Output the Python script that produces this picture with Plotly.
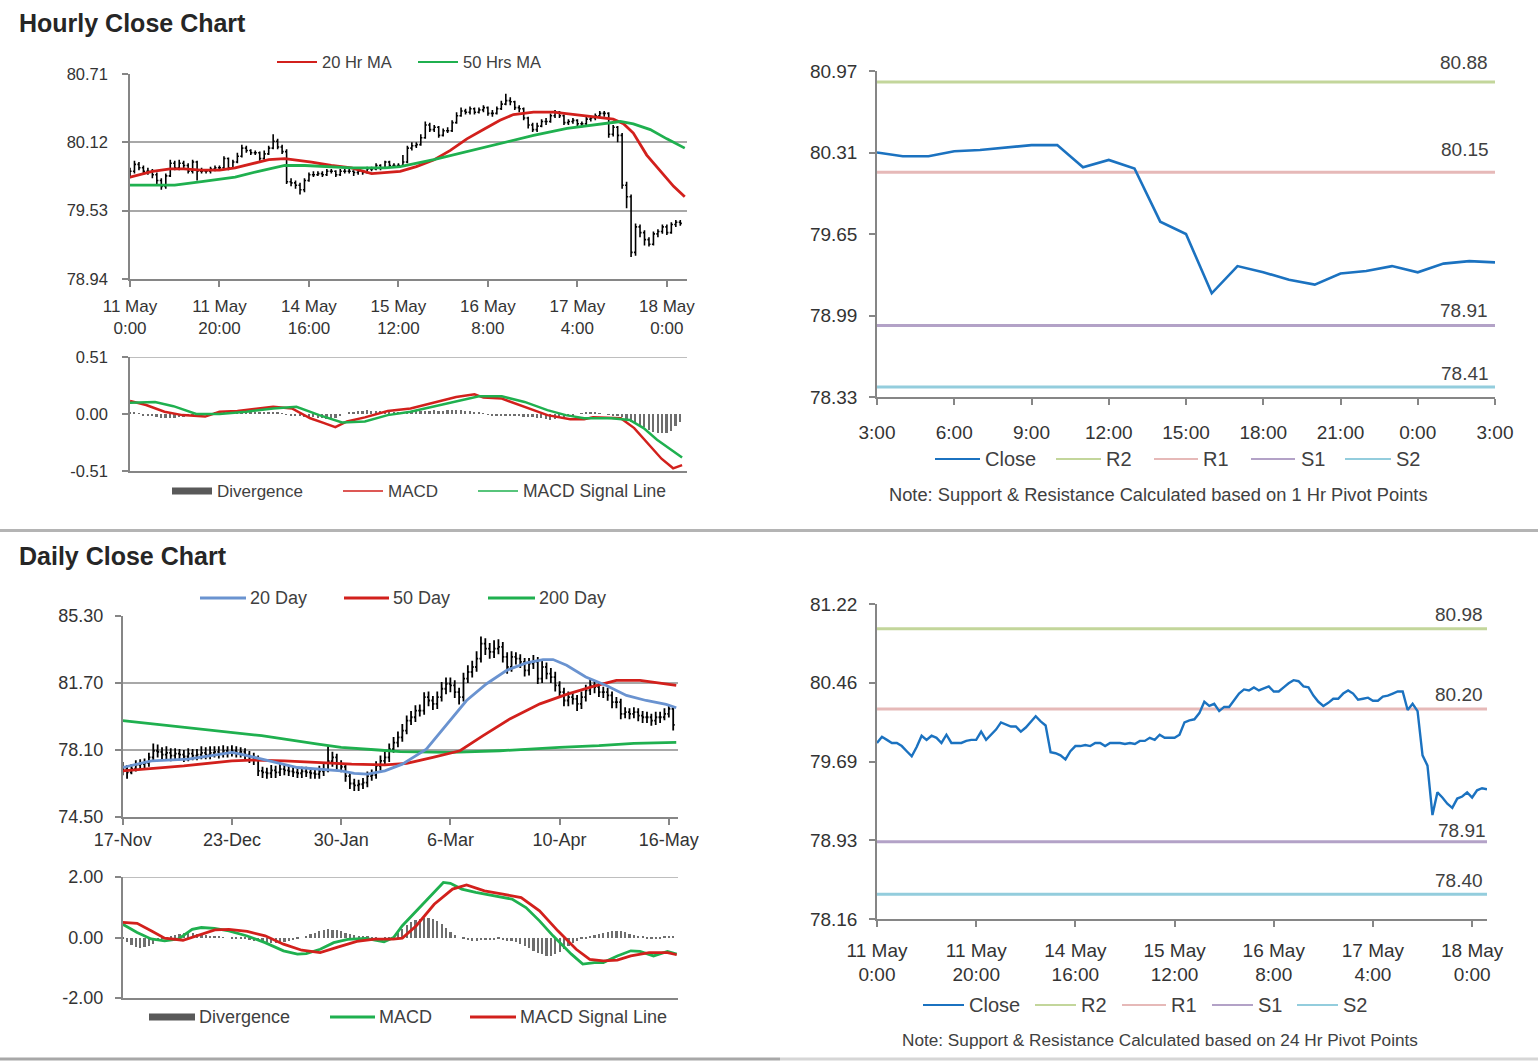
import plotly.graph_objects as go

W, H = 1538, 1061
def px(x): return x / W
def py(y): return 1 - y / H

FONT = "Liberation Sans, Arial, sans-serif"
AXC = "#868686"
GRIDC = "#a8a8a8"
TXT = "#333333"
RED = "#d2201c"
GREEN = "#1fb04f"
BLUE20 = "#6a93d0"
CLOSEB = "#1b72c0"
DIVC = "#6e6e6e"
R2C, R1C, S1C, S2C = "#c3d69b", "#e6b9b8", "#b3a2c7", "#93cddd"

# ---------------- Hourly data (11 May 0:00 .. 18 May 3:00) ----------------
HR_TICKVALS = [0, 20, 40, 60, 80, 100, 120]
HR_TICKTEXT = ["11 May<br>0:00", "11 May<br>20:00", "14 May<br>16:00", "15 May<br>12:00",
               "16 May<br>8:00", "17 May<br>4:00", "18 May<br>0:00"]

HR_OPEN = [79.84, 79.87, 79.93, 79.90, 79.87, 79.87, 79.84, 79.79, 79.74, 79.83,
           79.94, 79.90, 79.94, 79.92, 79.87, 79.95, 79.87, 79.87, 79.87, 79.89,
           79.90, 79.90, 79.98, 79.90, 79.95, 80.00, 80.07, 80.05, 80.03, 80.03,
           79.98, 80.02, 80.07, 80.13, 80.08, 80.04, 79.78, 79.77, 79.75, 79.71,
           79.79, 79.84, 79.84, 79.85, 79.84, 79.87, 79.87, 79.84, 79.87, 79.87,
           79.87, 79.86, 79.87, 79.86, 79.89, 79.89, 79.92, 79.90, 79.95, 79.92,
           79.92, 79.92, 79.95, 80.07, 80.09, 80.10, 80.16, 80.27, 80.23, 80.25,
           80.18, 80.22, 80.22, 80.29, 80.35, 80.39, 80.38, 80.41, 80.38, 80.40,
           80.42, 80.37, 80.37, 80.41, 80.45, 80.48, 80.47, 80.42, 80.41, 80.33,
           80.27, 80.23, 80.26, 80.30, 80.30, 80.35, 80.38, 80.35, 80.29, 80.30,
           80.31, 80.28, 80.28, 80.32, 80.33, 80.35, 80.37, 80.37, 80.19, 80.25,
           80.18, 79.75, 79.65, 79.17, 79.39, 79.34, 79.28, 79.24, 79.33, 79.35,
           79.39, 79.34, 79.41, 79.43]
HR_HIGH = [79.90, 79.96, 79.95, 79.92, 79.90, 79.89, 79.86, 79.81, 79.85, 79.97,
           79.96, 79.97, 79.96, 79.94, 79.97, 79.96, 79.90, 79.89, 79.91, 79.92,
           79.92, 80.00, 79.99, 79.97, 80.03, 80.10, 80.09, 80.06, 80.05, 80.04,
           80.05, 80.09, 80.19, 80.15, 80.10, 80.06, 79.81, 79.79, 79.77, 79.81,
           79.86, 79.87, 79.87, 79.87, 79.89, 79.89, 79.88, 79.89, 79.89, 79.90,
           79.88, 79.89, 79.88, 79.91, 79.91, 79.94, 79.93, 79.96, 79.96, 79.94,
           79.94, 80.01, 80.09, 80.12, 80.12, 80.19, 80.30, 80.29, 80.27, 80.26,
           80.24, 80.25, 80.31, 80.38, 80.42, 80.41, 80.43, 80.42, 80.42, 80.44,
           80.43, 80.40, 80.43, 80.48, 80.54, 80.51, 80.48, 80.44, 80.42, 80.34,
           80.29, 80.29, 80.32, 80.33, 80.37, 80.40, 80.39, 80.36, 80.32, 80.33,
           80.32, 80.30, 80.34, 80.35, 80.37, 80.39, 80.39, 80.38, 80.27, 80.26,
           80.20, 79.78, 79.67, 79.42, 79.41, 79.36, 79.30, 79.35, 79.37, 79.41,
           79.41, 79.43, 79.45, 79.45]
HR_LOW = [79.81, 79.85, 79.88, 79.84, 79.84, 79.81, 79.76, 79.71, 79.72, 79.82,
          79.88, 79.88, 79.89, 79.85, 79.85, 79.79, 79.85, 79.85, 79.85, 79.87,
          79.88, 79.89, 79.88, 79.89, 79.94, 79.99, 80.03, 80.01, 80.01, 79.96,
          79.97, 80.01, 80.06, 80.06, 80.02, 79.76, 79.74, 79.72, 79.67, 79.69,
          79.78, 79.82, 79.83, 79.82, 79.83, 79.85, 79.82, 79.83, 79.85, 79.85,
          79.83, 79.84, 79.84, 79.85, 79.87, 79.88, 79.88, 79.89, 79.90, 79.90,
          79.90, 79.91, 79.94, 80.05, 80.07, 80.09, 80.15, 80.21, 80.21, 80.16,
          80.17, 80.20, 80.21, 80.28, 80.34, 80.36, 80.36, 80.36, 80.37, 80.38,
          80.35, 80.34, 80.36, 80.40, 80.44, 80.44, 80.40, 80.38, 80.31, 80.24,
          80.21, 80.21, 80.25, 80.27, 80.29, 80.33, 80.33, 80.27, 80.27, 80.28,
          80.26, 80.25, 80.27, 80.30, 80.31, 80.33, 80.34, 80.16, 80.17, 80.12,
          79.72, 79.55, 79.13, 79.14, 79.30, 79.23, 79.22, 79.23, 79.30, 79.33,
          79.32, 79.33, 79.39, 79.40]
HR_CLOSE = [79.87, 79.93, 79.90, 79.87, 79.87, 79.84, 79.79, 79.74, 79.83, 79.94,
            79.90, 79.94, 79.92, 79.87, 79.95, 79.87, 79.87, 79.87, 79.89, 79.90,
            79.90, 79.98, 79.90, 79.95, 80.00, 80.07, 80.05, 80.03, 80.03, 79.98,
            80.02, 80.07, 80.13, 80.08, 80.04, 79.78, 79.77, 79.75, 79.71, 79.79,
            79.84, 79.84, 79.85, 79.84, 79.87, 79.87, 79.84, 79.87, 79.87, 79.87,
            79.86, 79.87, 79.86, 79.89, 79.89, 79.92, 79.90, 79.95, 79.92, 79.92,
            79.92, 79.95, 80.07, 80.09, 80.10, 80.16, 80.27, 80.23, 80.25, 80.18,
            80.22, 80.22, 80.29, 80.35, 80.39, 80.38, 80.41, 80.38, 80.40, 80.42,
            80.37, 80.37, 80.41, 80.45, 80.48, 80.47, 80.42, 80.41, 80.33, 80.27,
            80.23, 80.26, 80.30, 80.30, 80.35, 80.38, 80.35, 80.29, 80.30, 80.31,
            80.28, 80.28, 80.32, 80.33, 80.35, 80.37, 80.37, 80.19, 80.25, 80.18,
            79.75, 79.65, 79.17, 79.39, 79.34, 79.28, 79.24, 79.33, 79.35, 79.39,
            79.34, 79.41, 79.43, 79.42]

MA20_HR_X = [0, 5, 9, 12, 16, 20, 23.5, 27, 31, 34.6, 37, 40.6, 45, 49.5, 54, 57, 60.4, 64, 68, 71.6,
             75.3, 79, 82.7, 85.7, 90.2, 94.7, 99, 103.6, 108, 110.3, 112.5, 115.5, 118.5, 121.5, 124]
MA20_HR_Y = [79.82, 79.87, 79.89, 79.89, 79.88, 79.88, 79.90, 79.93, 79.97, 79.98, 79.97, 79.95, 79.92,
             79.90, 79.85, 79.86, 79.87, 79.91, 79.97, 80.05, 80.15, 80.23, 80.31, 80.36, 80.38, 80.38,
             80.36, 80.34, 80.32, 80.28, 80.20, 80.01, 79.87, 79.74, 79.65]
MA50_HR_X = [0, 10, 16, 23.5, 28.7, 34.6, 39.1, 49.5, 57, 60.4, 67.9, 75.3, 82.7, 90.2, 97.7, 105.1,
             109.6, 112.5, 116.3, 120, 124]
MA50_HR_Y = [79.75, 79.75, 79.78, 79.82, 79.87, 79.92, 79.92, 79.90, 79.90, 79.91, 79.97, 80.04, 80.11,
             80.18, 80.24, 80.28, 80.30, 80.28, 80.23, 80.15, 80.07]

HR_DIV = [0.02, 0.015, 0.005, -0.01, -0.015, -0.02, -0.03, -0.035, -0.04, -0.04,
          -0.035, -0.03, -0.025, -0.02, -0.015, -0.01, -0.005, 0.0, 0.005, 0.01,
          0.015, 0.015, 0.01, 0.01, 0.01, 0.01, 0.01, 0.015, 0.015, 0.01,
          0.01, 0.015, 0.015, 0.01, 0.005, -0.005, -0.01, -0.015, -0.02, -0.025,
          -0.03, -0.03, -0.035, -0.04, -0.045, -0.05, -0.04, -0.02, 0.0, 0.01,
          0.02, 0.025, 0.03, 0.035, 0.03, 0.03, 0.025, 0.02, 0.02, 0.02,
          0.015, 0.015, 0.02, 0.02, 0.025, 0.025, 0.03, 0.03, 0.035, 0.03,
          0.03, 0.035, 0.04, 0.04, 0.035, 0.03, 0.025, 0.02, 0.01, 0.005,
          -0.005, -0.01, -0.01, -0.015, -0.015, -0.02, -0.02, -0.02, -0.025, -0.03,
          -0.03, -0.035, -0.04, -0.045, -0.05, -0.045, -0.04, -0.03, -0.02, -0.01,
          0.0, 0.005, 0.01, 0.015, 0.01, 0.005, 0.0, -0.005, -0.01, -0.015,
          -0.03, -0.05, -0.07, -0.09, -0.11, -0.12, -0.14, -0.16, -0.17, -0.17,
          -0.17, -0.15, -0.11, -0.07]
MACD_HR_X = [0, 3.6, 7.7, 11.7, 16.8, 20, 24, 28, 32, 36.2, 40.3, 43.4, 45.9, 48.5, 52.5, 57.6, 62.7,
             67.8, 72.9, 77, 79, 83.1, 88.2, 93.3, 98.4, 101.5, 103.5, 109.7, 112.7, 115.8, 118.8, 121.4, 123.4]
MACD_HR_Y = [0.117, 0.08, 0.02, -0.01, -0.023, 0.02, 0.026, 0.044, 0.064, 0.05, -0.038, -0.082, -0.117,
             -0.067, -0.03, 0.026, 0.05, 0.10, 0.152, 0.176, 0.147, 0.138, 0.064, -0.01, -0.047, -0.047,
             -0.03, -0.038, -0.126, -0.27, -0.40, -0.486, -0.457]
SIG_HR_X = [0, 5.6, 9.7, 14.8, 20, 26, 32, 37.2, 42.3, 47.4, 52.5, 57.6, 62.7, 67.8, 72.9, 78, 83.1,
            88.2, 93.3, 97.4, 101.5, 107.6, 111.7, 114.8, 117.8, 120.9, 123.4]
SIG_HR_Y = [0.10, 0.108, 0.07, 0.0, 0.0, 0.02, 0.05, 0.064, -0.01, -0.076, -0.067, -0.01, 0.02, 0.064,
            0.108, 0.158, 0.158, 0.108, 0.035, -0.01, -0.038, -0.038, -0.053, -0.126, -0.23, -0.316, -0.39]

# last 24 hours (17 May 3:00 .. 18 May 3:00) with 1 Hr pivots
H24_TICKVALS = [0, 3, 6, 9, 12, 15, 18, 21, 24]
H24_TICKTEXT = ["3:00", "6:00", "9:00", "12:00", "15:00", "18:00", "21:00", "0:00", "3:00"]
PIV_1H_NAMES = ["R2", "R1", "S1", "S2"]
PIV_1H_VALS = [80.88, 80.15, 78.91, 78.41]
PIV_24H_VALS = [80.98, 80.20, 78.91, 78.40]

# ---------------- Daily data (17-Nov .. 17-May) ----------------
DY_TICKVALS = [0, 25, 50, 75, 100, 125]
DY_TICKTEXT = ["17-Nov", "23-Dec", "30-Jan", "6-Mar", "10-Apr", "16-May"]
DY_OPEN = [77.20, 77.07, 76.90, 77.10, 77.30, 77.34, 77.40, 77.70, 78.06, 78.00,
           77.85, 77.95, 77.80, 77.90, 77.85, 77.75, 77.90, 77.80, 77.85, 77.95,
           77.85, 77.95, 78.00, 77.90, 78.05, 77.95, 78.06, 77.97, 78.00, 77.85,
           77.70, 77.60, 76.98, 76.90, 76.85, 77.00, 76.90, 77.07, 77.00, 76.95,
           76.90, 76.85, 76.95, 76.90, 76.85, 76.80, 76.95, 77.00, 77.50, 77.70,
           77.34, 77.20, 76.70, 76.30, 76.20, 76.26, 76.35, 76.70, 76.75, 77.25,
           77.52, 77.70, 78.15, 78.50, 78.78, 79.14, 79.68, 79.86, 80.22, 80.22,
           80.94, 80.76, 80.58, 80.94, 81.39, 81.66, 81.57, 81.21, 80.94, 81.93,
           82.29, 82.56, 83.01, 83.82, 83.55, 83.37, 83.55, 83.64, 83.10, 82.56,
           83.10, 83.01, 82.83, 82.38, 82.74, 82.83, 81.93, 82.56, 82.20, 82.02,
           81.57, 81.21, 80.76, 80.94, 80.85, 80.58, 80.94, 81.30, 81.57, 81.48,
           81.21, 81.21, 81.03, 80.67, 80.67, 80.04, 80.13, 80.04, 80.13, 79.95,
           79.86, 79.86, 79.68, 79.86, 79.86, 80.04, 80.31]
DY_HIGH = [77.45, 77.30, 77.35, 77.55, 77.60, 77.65, 77.95, 78.45, 78.40, 78.25,
           78.30, 78.20, 78.20, 78.15, 78.10, 78.20, 78.15, 78.15, 78.30, 78.25,
           78.30, 78.30, 78.30, 78.35, 78.30, 78.35, 78.30, 78.25, 78.20, 78.05,
           77.95, 77.80, 77.20, 77.15, 77.30, 77.25, 77.35, 77.30, 77.25, 77.20,
           77.15, 77.20, 77.20, 77.15, 77.10, 77.25, 77.35, 78.30, 78.00, 77.90,
           77.55, 77.40, 76.90, 76.55, 76.50, 76.60, 76.95, 77.05, 77.50, 77.80,
           78.00, 78.45, 78.80, 79.10, 79.50, 79.95, 80.20, 80.50, 80.55, 81.20,
           81.25, 81.00, 81.25, 81.75, 82.00, 82.00, 81.85, 81.45, 82.25, 82.65,
           82.90, 83.40, 84.20, 84.10, 83.85, 84.00, 84.05, 83.90, 83.35, 83.40,
           83.35, 83.25, 83.05, 83.05, 83.20, 83.10, 82.90, 82.80, 82.50, 82.30,
           81.80, 81.45, 81.25, 81.20, 81.05, 81.25, 81.60, 81.90, 81.80, 81.70,
           81.50, 81.45, 81.25, 80.95, 80.85, 80.40, 80.35, 80.40, 80.35, 80.20,
           80.15, 80.05, 80.15, 80.15, 80.35, 80.55, 80.45]
DY_LOW = [76.75, 76.55, 76.80, 76.95, 77.05, 77.10, 77.20, 77.55, 77.70, 77.55,
          77.60, 77.50, 77.55, 77.55, 77.45, 77.50, 77.55, 77.55, 77.60, 77.60,
          77.60, 77.70, 77.65, 77.70, 77.70, 77.75, 77.70, 77.70, 77.55, 77.40,
          77.30, 76.70, 76.60, 76.55, 76.60, 76.60, 76.70, 76.75, 76.70, 76.65,
          76.60, 76.60, 76.65, 76.55, 76.55, 76.55, 76.70, 76.90, 77.20, 77.05,
          76.90, 76.40, 76.00, 75.90, 75.90, 76.00, 76.10, 76.45, 76.55, 77.00,
          77.25, 77.45, 77.95, 78.25, 78.55, 78.95, 79.45, 79.60, 79.90, 80.00,
          80.45, 80.25, 80.30, 80.70, 81.10, 81.20, 80.90, 80.55, 80.70, 81.70,
          82.00, 82.30, 82.80, 83.20, 83.00, 83.05, 83.25, 82.80, 82.20, 82.30,
          82.70, 82.50, 82.05, 82.10, 82.45, 81.65, 81.70, 81.90, 81.70, 81.25,
          80.90, 80.45, 80.45, 80.55, 80.20, 80.30, 80.70, 81.05, 81.15, 80.95,
          80.90, 80.75, 80.35, 80.35, 79.75, 79.80, 79.75, 79.80, 79.65, 79.55,
          79.55, 79.40, 79.45, 79.55, 79.70, 79.85, 79.15]
DY_CLOSE = [77.07, 76.90, 77.10, 77.30, 77.34, 77.40, 77.70, 78.06, 78.00, 77.85,
            77.95, 77.80, 77.90, 77.85, 77.75, 77.90, 77.80, 77.85, 77.95, 77.85,
            77.95, 78.00, 77.90, 78.05, 77.95, 78.06, 77.97, 78.00, 77.85, 77.70,
            77.60, 76.98, 76.90, 76.85, 77.00, 76.90, 77.07, 77.00, 76.95, 76.90,
            76.85, 76.95, 76.90, 76.85, 76.80, 76.95, 77.00, 77.50, 77.70, 77.34,
            77.20, 76.70, 76.30, 76.20, 76.26, 76.35, 76.70, 76.75, 77.25, 77.52,
            77.70, 78.15, 78.50, 78.78, 79.14, 79.68, 79.86, 80.22, 80.22, 80.94,
            80.76, 80.58, 80.94, 81.39, 81.66, 81.57, 81.21, 80.94, 81.93, 82.29,
            82.56, 83.01, 83.82, 83.55, 83.37, 83.55, 83.64, 83.10, 82.56, 83.10,
            83.01, 82.83, 82.38, 82.74, 82.83, 81.93, 82.56, 82.20, 82.02, 81.57,
            81.21, 80.76, 80.94, 80.85, 80.58, 80.94, 81.30, 81.57, 81.48, 81.21,
            81.21, 81.03, 80.67, 80.67, 80.04, 80.13, 80.04, 80.13, 79.95, 79.86,
            79.86, 79.68, 79.86, 79.86, 80.04, 80.31, 79.45]

MA20_DY_X = [0, 6.6, 15, 20, 25, 27, 30, 35, 40, 45, 50, 53, 56, 60, 64, 69.5, 75, 78.7, 83.3, 87.9,
             92.4, 96.2, 98.5, 101.6, 106, 110.7, 115.3, 119.8, 124.4, 126.7]
MA20_DY_Y = [77.16, 77.52, 77.61, 77.79, 77.97, 77.88, 77.70, 77.43, 77.16, 77.07, 76.98, 76.84, 76.80,
             76.98, 77.34, 78.15, 79.68, 80.76, 81.66, 82.38, 82.78, 82.96, 82.96, 82.65, 82.02, 81.57,
             81.03, 80.76, 80.55, 80.37]
MA50_DY_X = [0, 14, 25, 29.5, 37, 44.7, 52.4, 60, 65, 71, 77.2, 82.5, 88.6, 95.5, 101.6, 107.7, 113,
             118.4, 123, 126.7]
MA50_DY_Y = [76.98, 77.25, 77.52, 77.56, 77.52, 77.43, 77.34, 77.30, 77.38, 77.70, 78.06, 78.87, 79.77,
             80.58, 81.09, 81.52, 81.84, 81.84, 81.70, 81.57]
MA200_DY_X = [0, 25, 31.8, 44.7, 50, 58.5, 63.5, 75, 86.3, 100, 109, 117, 126.7]
MA200_DY_Y = [79.68, 79.05, 78.87, 78.42, 78.24, 78.10, 78.01, 77.97, 78.06, 78.24, 78.33, 78.46, 78.51]

DY_DIV = [-0.05, -0.15, -0.25, -0.32, -0.35, -0.33, -0.28, -0.2, -0.12, -0.06,
          -0.02, 0.03, 0.07, 0.12, 0.15, 0.16, 0.15, 0.13, 0.1, 0.07,
          0.05, 0.03, 0.02, 0.01, 0.0, -0.02, -0.03, -0.05, -0.06, -0.08,
          -0.1, -0.12, -0.14, -0.15, -0.17, -0.18, -0.17, -0.15, -0.12, -0.08,
          -0.04, 0.0, 0.05, 0.1, 0.15, 0.2, 0.24, 0.27, 0.26, 0.24,
          0.2, 0.16, 0.12, 0.08, 0.05, 0.03, 0.02, -0.02, -0.05, -0.08,
          -0.06, -0.03, 0.05, 0.15, 0.28, 0.4, 0.5, 0.58, 0.62, 0.65,
          0.63, 0.6, 0.55, 0.45, 0.3, 0.18, 0.08, 0.0, -0.05, -0.08,
          -0.1, -0.1, -0.08, -0.07, -0.08, -0.07, -0.06, -0.08, -0.1, -0.12,
          -0.15, -0.2, -0.28, -0.36, -0.44, -0.5, -0.55, -0.6, -0.6, -0.55,
          -0.48, -0.38, -0.28, -0.18, -0.1, -0.05, -0.02, 0.03, 0.08, 0.12,
          0.16, 0.18, 0.2, 0.22, 0.2, 0.17, 0.12, 0.08, 0.05, 0.02,
          -0.02, -0.04, -0.05, -0.03, 0.02, 0.05, 0.04]
MACD_DY_X = [0, 3.3, 6.5, 9.6, 12.8, 15.9, 18, 21, 24.3, 28.5, 32.6, 36.8, 40, 42, 45.2, 48.3, 51.5,
             55.6, 59.8, 62, 64, 67.2, 70.3, 73.4, 75, 77.6, 80.8, 85, 89.1, 92.3, 95.4, 98.5, 102.7,
             105.3, 108, 110, 113.2, 116.3, 118.4, 121.5, 124.7, 126.8]
MACD_DY_Y = [0.44, 0.165, -0.05, -0.11, -0.05, 0.27, 0.33, 0.30, 0.22, 0.05, -0.17, -0.44, -0.55, -0.53,
             -0.39, -0.17, -0.06, -0.03, -0.14, 0.0, 0.39, 0.88, 1.38, 1.82, 1.79, 1.60, 1.49, 1.38, 1.27,
             0.99, 0.55, 0.055, -0.55, -0.88, -0.83, -0.83, -0.61, -0.44, -0.46, -0.61, -0.46, -0.55]
SIG_DY_X = [0, 3.3, 6.5, 9.6, 13.8, 16.9, 21.1, 24.3, 28.5, 32.6, 36.8, 41, 45.2, 49.4, 53.6, 57.7,
            61.9, 64, 67.2, 71.3, 75.5, 78.7, 82.8, 87, 91.2, 95.4, 99.6, 103.8, 106.9, 110, 113.2,
            116.3, 120.5, 124.7, 126.8]
SIG_DY_Y = [0.50, 0.47, 0.22, -0.02, -0.09, 0.055, 0.25, 0.27, 0.20, 0.055, -0.22, -0.42, -0.50, -0.31,
            -0.13, -0.055, -0.055, -0.02, 0.39, 1.10, 1.60, 1.74, 1.54, 1.43, 1.32, 0.88, 0.22, -0.39,
            -0.72, -0.77, -0.75, -0.61, -0.50, -0.50, -0.57]

PIV_COLORS = [R2C, R1C, S1C, S2C]

# ---------------- figure ----------------
fig = go.Figure()
hr_idx = list(range(len(HR_CLOSE)))
dy_idx = list(range(len(DY_CLOSE)))

# Panel 1: hourly OHLC
fig.add_trace(go.Ohlc(x=hr_idx, open=HR_OPEN, high=HR_HIGH, low=HR_LOW, close=HR_CLOSE,
                      increasing_line_color="black", decreasing_line_color="black",
                      line_width=1.6, tickwidth=0.35, xaxis="x", yaxis="y", hoverinfo="skip"))
fig.add_trace(go.Scatter(x=MA20_HR_X, y=MA20_HR_Y, mode="lines", line=dict(color=RED, width=2.8),
                         xaxis="x", yaxis="y"))
fig.add_trace(go.Scatter(x=MA50_HR_X, y=MA50_HR_Y, mode="lines", line=dict(color=GREEN, width=2.8),
                         xaxis="x", yaxis="y"))
# Panel 2: hourly MACD
fig.add_trace(go.Bar(x=hr_idx, y=HR_DIV, width=0.4, marker=dict(color=DIVC, line=dict(width=0)),
                     xaxis="x2", yaxis="y2"))
fig.add_trace(go.Scatter(x=MACD_HR_X, y=MACD_HR_Y, mode="lines", line=dict(color=RED, width=2.5),
                         xaxis="x2", yaxis="y2"))
fig.add_trace(go.Scatter(x=SIG_HR_X, y=SIG_HR_Y, mode="lines", line=dict(color=GREEN, width=2.5),
                         xaxis="x2", yaxis="y2"))
# Panel 3: last 24h close with 1 Hr pivots
for v, c in zip(PIV_1H_VALS, PIV_COLORS):
    fig.add_trace(go.Scatter(x=[H24_TICKVALS[0], H24_TICKVALS[-1]], y=[v, v], mode="lines",
                             line=dict(color=c, width=3), xaxis="x3", yaxis="y3"))
fig.add_trace(go.Scatter(x=list(range(25)), y=HR_CLOSE[-25:], mode="lines",
                         line=dict(color=CLOSEB, width=2.6), xaxis="x3", yaxis="y3"))
# Panel 4: daily OHLC
fig.add_trace(go.Ohlc(x=dy_idx, open=DY_OPEN, high=DY_HIGH, low=DY_LOW, close=DY_CLOSE,
                      increasing_line_color="black", decreasing_line_color="black",
                      line_width=1.8, tickwidth=0.35, xaxis="x4", yaxis="y4", hoverinfo="skip"))
fig.add_trace(go.Scatter(x=MA200_DY_X, y=MA200_DY_Y, mode="lines", line=dict(color=GREEN, width=2.8),
                         xaxis="x4", yaxis="y4"))
fig.add_trace(go.Scatter(x=MA50_DY_X, y=MA50_DY_Y, mode="lines", line=dict(color=RED, width=2.8),
                         xaxis="x4", yaxis="y4"))
fig.add_trace(go.Scatter(x=MA20_DY_X, y=MA20_DY_Y, mode="lines", line=dict(color=BLUE20, width=2.8),
                         xaxis="x4", yaxis="y4"))
# Panel 5: daily MACD
fig.add_trace(go.Bar(x=dy_idx, y=DY_DIV, width=0.4, marker=dict(color=DIVC, line=dict(width=0)),
                     xaxis="x5", yaxis="y5"))
fig.add_trace(go.Scatter(x=MACD_DY_X, y=MACD_DY_Y, mode="lines", line=dict(color=GREEN, width=2.8),
                         xaxis="x5", yaxis="y5"))
fig.add_trace(go.Scatter(x=SIG_DY_X, y=SIG_DY_Y, mode="lines", line=dict(color=RED, width=2.8),
                         xaxis="x5", yaxis="y5"))
# Panel 6: hourly close for the week with 24 Hr pivots
for v, c in zip(PIV_24H_VALS, PIV_COLORS):
    fig.add_trace(go.Scatter(x=[0, hr_idx[-1]], y=[v, v], mode="lines",
                             line=dict(color=c, width=3), xaxis="x6", yaxis="y6"))
fig.add_trace(go.Scatter(x=hr_idx, y=HR_CLOSE, mode="lines", line=dict(color=CLOSEB, width=2.4),
                         xaxis="x6", yaxis="y6"))


def xax(dom, anchor, rng, tv=None, tt=None, size=16, standoff=6):
    d = dict(domain=[px(dom[0]), px(dom[1])], anchor=anchor, range=rng, showgrid=False,
             zeroline=False, showline=True, linecolor=AXC, linewidth=1.5, fixedrange=True,
             automargin=False, tickfont=dict(family=FONT, size=size, color=TXT))
    if tv is not None:
        d.update(tickmode="array", tickvals=tv, ticktext=tt, ticks="outside", ticklen=6,
                 tickwidth=1.5, tickcolor=AXC, ticklabelstandoff=standoff)
    else:
        d.update(showticklabels=False, ticks="")
    return d


def yax(dom, anchor, rng, tv, tt, size=16, grid=True, standoff=8):
    return dict(domain=[py(dom[1]), py(dom[0])], anchor=anchor, range=rng, tickmode="array",
                tickvals=tv, ticktext=tt, showgrid=grid, gridcolor=GRIDC, gridwidth=1.5,
                zeroline=False, showline=True, linecolor=AXC, linewidth=1.5, ticks="outside",
                ticklen=6, tickwidth=1.5, tickcolor=AXC, fixedrange=True, ticklabelstandoff=standoff,
                automargin=False, tickfont=dict(family=FONT, size=size, color=TXT))


HR_Y_TV = [78.94, 79.53, 80.12, 80.71]
HR_M_TV = [-0.51, 0.0, 0.51]
H24_Y_TV = [78.33, 78.99, 79.65, 80.31, 80.97]
DY_Y_TV = [74.50, 78.10, 81.70, 85.30]
DY_M_TV = [-2.0, 0.0, 2.0]
WK_Y_TV = [78.16, 78.925, 79.69, 80.455, 81.22]
WK_Y_TT = ["78.16", "78.93", "79.69", "80.46", "81.22"]

fig.update_layout(
    xaxis=dict(xax((130, 687), "y", [0, 124.5], HR_TICKVALS, HR_TICKTEXT, 17, 5), rangeslider=dict(visible=False)),
    yaxis=yax((74, 279), "x", [78.94, 80.71], HR_Y_TV, [f"{v:.2f}" for v in HR_Y_TV], 16.5, standoff=11),
    xaxis2=xax((130, 687), "y2", [0, 124.5]),
    yaxis2=yax((357, 471), "x2", [-0.51, 0.51], HR_M_TV, [f"{v:.2f}" for v in HR_M_TV], 16.5, grid=False, standoff=11),
    xaxis3=xax((877, 1495), "y3", [0, 24], H24_TICKVALS, H24_TICKTEXT, 19, 11),
    yaxis3=yax((71, 397), "x3", [78.33, 80.97], H24_Y_TV, [f"{v:.2f}" for v in H24_Y_TV], 19, grid=False),
    xaxis4=dict(xax((122.7, 678), "y4", [0, 127.1], DY_TICKVALS, DY_TICKTEXT, 18, 0), rangeslider=dict(visible=False)),
    yaxis4=yax((616, 817), "x4", [74.5, 85.3], DY_Y_TV, [f"{v:.2f}" for v in DY_Y_TV], 18),
    xaxis5=xax((122.7, 678), "y5", [0, 127.1]),
    yaxis5=yax((877, 998), "x5", [-2, 2], DY_M_TV, [f"{v:.2f}" for v in DY_M_TV], 18, grid=False),
    xaxis6=xax((877, 1487), "y6", [0, 123], HR_TICKVALS, HR_TICKTEXT, 19, 7),
    yaxis6=yax((604, 919), "x6", [78.16, 81.22], WK_Y_TV, WK_Y_TT, 19, grid=False),
)

shapes = []
annos = []

def pline(x0, x1, y, color, w):
    shapes.append(dict(type="line", xref="paper", yref="paper", x0=px(x0), x1=px(x1),
                       y0=py(y), y1=py(y), line=dict(color=color, width=w), layer="above"))

def prect(x0, x1, y, h, color):
    shapes.append(dict(type="rect", xref="paper", yref="paper", x0=px(x0), x1=px(x1),
                       y0=py(y + h / 2), y1=py(y - h / 2), fillcolor=color, line=dict(width=0)))

def ptext(x, y, s, size=16, anchor="left", color="#404040"):
    annos.append(dict(xref="paper", yref="paper", x=px(x), y=py(y), text=s, showarrow=False,
                      xanchor=anchor, yanchor="middle", font=dict(family=FONT, size=size, color=color)))

# titles
ptext(17, 23, "<b>Hourly Close Chart</b>", 25, color="#262626")
ptext(17, 556, "<b>Daily Close Chart</b>", 25, color="#262626")

# top gridlines of MACD panels
shapes.append(dict(type="line", xref="x2 domain", yref="y2", x0=0, x1=1, y0=0.51, y1=0.51,
                   line=dict(color=GRIDC, width=1.5)))
shapes.append(dict(type="line", xref="x5 domain", yref="y5", x0=0, x1=1, y0=2, y1=2,
                   line=dict(color=GRIDC, width=1.5)))

# legends: panel 1
pline(277, 317, 62, RED, 2); ptext(320, 62, "20 Hr MA", 16.5)
pline(418, 458, 62, GREEN, 2); ptext(461, 62, "50 Hrs MA", 16.5)
# panel 2
prect(172, 212, 491, 7, "#595959"); ptext(215, 491, "Divergence", 17)
pline(343, 383, 491, RED, 1.5); ptext(386, 491, "MACD", 17)
pline(478, 518, 491, GREEN, 1.5); ptext(521, 491, "MACD Signal Line", 17.5)
# panel 3
pline(935, 980, 459, CLOSEB, 2); ptext(983, 459, "Close", 20)
pline(1056, 1101, 459, R2C, 2); ptext(1104, 459, "R2", 20)
pline(1154, 1198, 459, R1C, 2); ptext(1201, 459, "R1", 20)
pline(1251, 1295, 459, S1C, 2); ptext(1299, 459, "S1", 20)
pline(1345, 1391, 459, S2C, 2); ptext(1394, 459, "S2", 20)
ptext(1158, 494, "Note: Support &amp; Resistance Calculated based on 1 Hr Pivot Points", 18.3, "center")
for (x, y), v in zip([(1464, 63), (1465, 150), (1464, 310), (1465, 373)], PIV_1H_VALS):
    ptext(x, y, f"{v:.2f}", 19, "center")
# panel 4
pline(200, 246, 598, BLUE20, 3); ptext(248, 598, "20 Day", 18)
pline(344, 389, 598, RED, 3); ptext(391, 598, "50 Day", 18)
pline(488, 535, 598, GREEN, 3); ptext(537, 598, "200 Day", 18)
# panel 5
prect(149, 195, 1017, 7, "#595959"); ptext(197, 1017, "Divergence", 18)
pline(330, 375, 1017, GREEN, 3); ptext(377, 1017, "MACD", 18)
pline(470, 516, 1017, RED, 3); ptext(518, 1017, "MACD Signal Line", 18)
# panel 6
pline(923, 964, 1005, CLOSEB, 2); ptext(967, 1005, "Close", 20)
pline(1035, 1076, 1005, R2C, 2); ptext(1079, 1005, "R2", 20)
pline(1122, 1166, 1005, R1C, 2); ptext(1169, 1005, "R1", 20)
pline(1212, 1253, 1005, S1C, 2); ptext(1256, 1005, "S1", 20)
pline(1297, 1338, 1005, S2C, 2); ptext(1341, 1005, "S2", 20)
ptext(1160, 1040, "Note: Support &amp; Resistance Calculated based on 24 Hr Pivot Points", 17.2, "center")
for (x, y), v in zip([(1459, 614), (1459, 694), (1462, 830), (1459, 880)], PIV_24H_VALS):
    ptext(x, y, f"{v:.2f}", 19, "center")

# separators
pline(0, 1538, 530.5, "#b4b4b4", 3)
pline(0, 780, 1059, "#a8a8a8", 3)
pline(780, 1538, 1059, "#d6d6d6", 3)

fig.update_layout(shapes=shapes, annotations=annos, showlegend=False, width=W, height=H,
                  autosize=False, margin=dict(l=0, r=0, t=0, b=0, pad=0), plot_bgcolor="white",
                  paper_bgcolor="white", hovermode=False, bargap=0)

fig.write_html("out.html", config={"displayModeBar": False, "responsive": False},
               post_script="document.body.style.margin='0';document.body.style.overflow='hidden';")
